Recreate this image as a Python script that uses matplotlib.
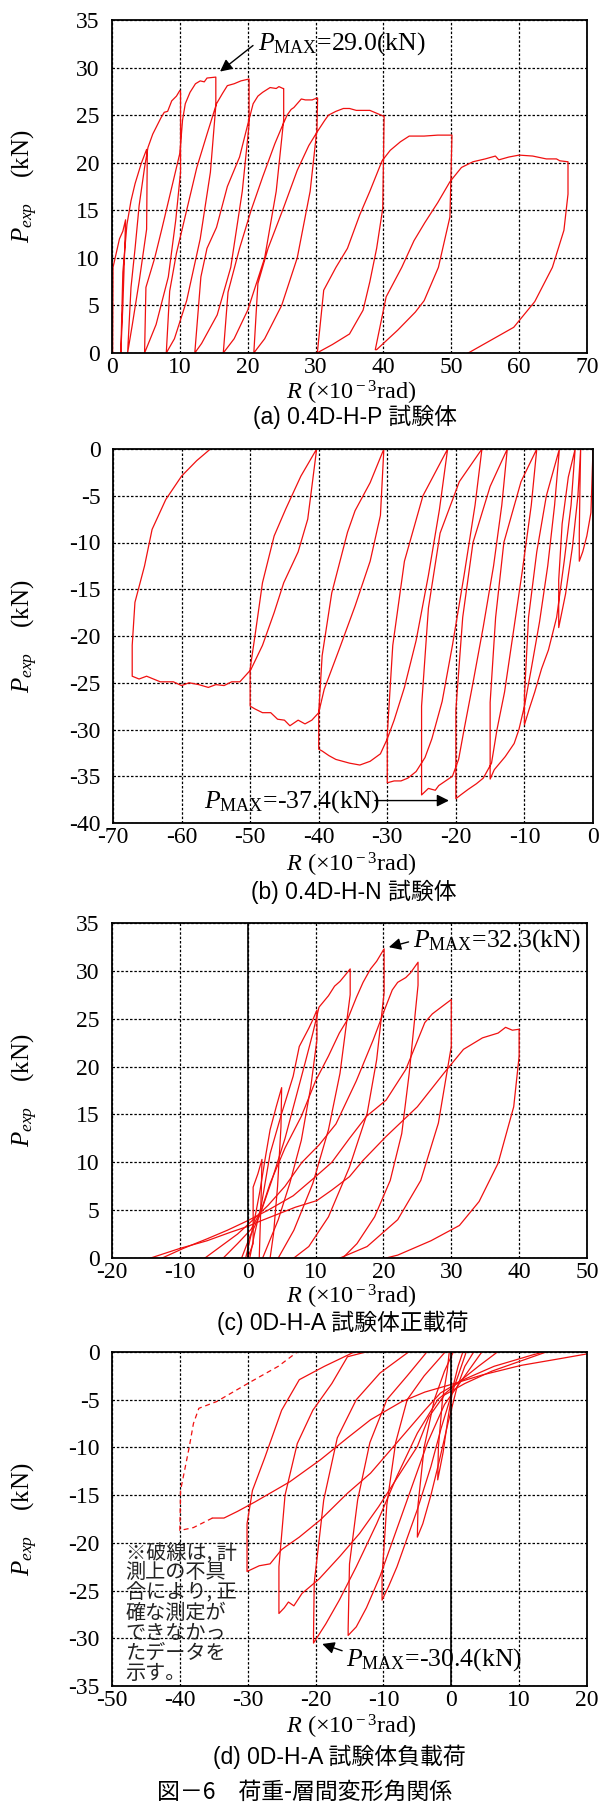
import matplotlib
matplotlib.use('Agg')
import matplotlib.pyplot as plt
from matplotlib.ticker import MultipleLocator

plt.rcParams['font.family'] = ['Liberation Serif', 'Noto Sans CJK JP']
plt.rcParams['mathtext.fontset'] = 'custom'
plt.rcParams['mathtext.rm'] = 'Liberation Serif'
plt.rcParams['mathtext.it'] = 'Liberation Serif:italic'
plt.rcParams['axes.unicode_minus'] = False

# (a) 0.4D-H-P : positive loading, one continuous curve
a_R = [0.1, 0.15, 0.6, 1.1, 1.6, 2.0, 1.9, 1.6, 1.3,
       1.6, 2.2, 2.8, 3.4, 4.3, 5.1, 5.2, 5.1, 4.0, 3.0, 2.3,
       2.8, 3.4, 4.0, 4.8, 5.3, 6.0, 7.2, 7.7, 8.2, 8.8, 9.5, 10.0,
       10.1, 10.1, 9.4, 8.3, 6.5, 4.8,
       5.0, 6.3, 7.4, 8.8, 10.0, 10.4, 10.8, 11.5, 12.3, 13.0, 13.6, 14.0, 15.2,
       15.3, 15.3, 14.5, 13.0, 11.0, 9.2, 8.0,
       8.5, 9.5, 11.0, 12.5, 14.0, 15.4, 16.3, 17.0, 18.0, 19.0, 20.2,
       20.2, 19.2, 17.5, 15.5, 13.2, 12.2,
       13.1, 14.0, 15.4, 17.0, 18.8, 20.0, 20.8, 21.5, 22.2, 23.3, 24.2, 24.6, 25.2,
       25.3, 25.3, 24.2, 22.5, 20.0, 18.0, 16.4,
       17.1, 18.8, 20.5, 22.2, 24.0, 25.0, 25.8, 26.4, 26.8, 27.9, 28.5, 29.5, 30.2,
       30.3, 30.2, 29.2, 27.3, 25.0, 22.5, 20.9,
       21.5, 23.0, 25.3, 27.3, 29.0, 30.2, 31.3, 31.9, 33.0, 34.1, 35.0, 36.0, 37.0, 38.0, 39.0, 40.0,
       40.1, 39.9, 39.0, 38.0, 37.0, 35.0, 32.5, 30.2,
       30.3, 31.2, 33.0, 34.7, 36.5, 38.0, 39.8, 41.0, 42.5, 43.8, 46.0, 48.0, 50.1,
       50.1, 49.8, 48.1, 46.0, 44.7, 42.1, 39.0,
       38.8, 40.4, 42.7, 44.5, 46.1, 48.0, 49.8, 51.5, 53.2, 55.0, 56.5, 57.0, 58.5, 60.0,
       62.0, 64.0, 65.5, 66.0, 67.2,
       67.2, 66.6, 64.9, 62.3, 59.2, 52.5]
a_P = [0.0, 9.0, 10.4, 12.0, 12.8, 14.0, 11.5, 5.0, 0.0,
       8.5, 13.5, 16.0, 17.8, 19.9, 21.4, 21.0, 13.0, 7.5, 3.0, 0.0,
       6.9, 11.0, 15.5, 19.5, 21.6, 23.0, 24.7, 25.3, 25.4, 26.5, 27.0, 27.6,
       27.5, 19.0, 14.0, 8.0, 3.0, 0.0,
       6.9, 10.0, 13.2, 17.4, 21.0, 24.5, 26.2, 27.4, 28.3, 28.6, 28.5, 28.9, 29.0,
       29.0, 26.0, 19.0, 12.0, 5.5, 1.5, 0.0,
       6.5, 10.5, 15.0, 19.5, 23.0, 26.2, 27.3, 28.1, 28.3, 28.6, 28.8,
       24.0, 17.0, 9.0, 4.0, 1.0, 0.0,
       8.0, 11.0, 13.2, 17.5, 20.6, 24.0, 26.2, 27.0, 27.4, 27.9, 27.8, 28.0, 27.8,
       27.8, 24.5, 17.0, 10.0, 4.5, 1.5, 0.0,
       6.4, 11.0, 15.0, 18.5, 22.0, 23.7, 25.0, 25.6, 25.8, 26.7, 26.6, 26.6, 26.8,
       26.8, 23.5, 17.0, 10.0, 5.0, 1.5, 0.0,
       7.3, 11.0, 15.3, 19.2, 21.8, 23.2, 24.4, 25.0, 25.4, 25.7, 25.7, 25.5, 25.5, 25.5, 25.2, 24.9,
       24.9, 15.2, 11.0, 7.5, 4.5, 2.0, 0.9, 0.0,
       0.3, 6.6, 9.0, 11.0, 14.5, 17.0, 20.2, 21.3, 22.2, 22.8, 22.8, 22.9, 22.9,
       22.9, 14.3, 9.0, 5.5, 4.3, 2.4, 0.35,
       0.35, 5.9, 9.0, 11.8, 13.7, 15.8, 18.0, 19.5, 20.1, 20.4, 20.7, 20.3, 20.6, 20.8,
       20.7, 20.4, 20.4, 20.2, 20.1,
       16.7, 12.9, 9.0, 5.4, 2.7, 0.0]

# (b) 0.4D-H-N : negative loading, one continuous curve
b_R = [0.0, -0.3, -0.9, -1.5, -2.0, -2.0, -1.9, -1.8,
       -2.2, -3.0, -4.0, -5.0, -5.0, -4.5, -3.6, -2.6,
       -3.2, -4.2, -5.3, -6.5, -7.5, -8.5, -9.3, -10.0,
       -10.0, -9.4, -8.2, -6.8, -4.9,
       -5.6, -6.6, -7.8, -9.0, -10.0, -10.8, -11.5, -12.8, -14.4, -15.0,
       -15.0, -14.2, -13.0, -10.5, -8.2,
       -9.0, -10.3, -11.7, -12.9, -14.0, -14.8, -16.0, -17.0, -18.2, -19.3, -20.0,
       -20.0, -19.0, -17.5, -15.0, -12.5,
       -13.3, -14.5, -16.0, -17.5, -18.8, -19.6, -20.5, -21.5, -22.5, -23.0, -24.0, -25.0,
       -25.0, -24.0, -22.3, -19.5, -16.2,
       -17.2, -18.8, -20.5, -22.0, -23.5, -24.5, -25.8, -27.0, -28.0, -29.0, -30.0,
       -30.0, -29.2, -27.5, -24.8, -21.2,
       -22.4, -24.0, -25.8, -27.5, -29.0, -30.0, -31.0, -32.5, -34.0, -35.5, -37.5, -38.5, -39.5, -40.0,
       -40.0, -39.5, -38.1, -35.8, -34.7, -32.5, -30.5,
       -31.0, -32.5, -34.7, -37.0, -39.2, -40.0, -41.0, -42.0, -43.0, -44.2, -45.0, -46.0, -47.0,
       -48.2, -49.3, -50.0,
       -50.0, -49.3, -48.2, -46.5, -44.8, -42.6, -40.3,
       -41.6, -43.0, -45.1, -46.5, -48.2, -49.9, -51.5, -52.7, -53.8, -55.0, -56.1, -57.5, -58.9,
       -60.0, -61.2, -63.1, -65.1, -66.2, -67.2,
       -67.2, -66.8, -65.4, -64.3, -62.3, -60.0, -57.8, -55.8]
b_P = [0.0, -6.8, -9.3, -11.0, -12.0, -9.0, -4.0, 0.0,
       -5.0, -10.5, -15.5, -19.1, -14.0, -8.0, -3.0, 0.0,
       -6.0, -12.0, -18.0, -21.5, -23.5, -26.0, -27.8, -29.5,
       -26.4, -18.0, -11.0, -5.0, 0.0,
       -6.0, -12.5, -18.5, -23.5, -27.5, -30.0, -31.5, -32.9, -34.3, -35.3,
       -27.1, -18.0, -10.0, -3.5, 0.0,
       -6.0, -13.0, -20.0, -26.0, -30.0, -33.6, -35.2, -35.8, -36.4, -37.0, -37.4,
       -27.9, -18.0, -10.0, -4.0, 0.0,
       -6.0, -12.5, -19.0, -25.0, -30.0, -33.2, -35.0, -35.5, -36.0, -36.5, -36.3, -37.0,
       -27.5, -17.0, -9.0, -3.5, 0.0,
       -6.0, -13.5, -21.0, -27.0, -31.0, -33.0, -34.5, -35.2, -35.5, -35.5, -35.7,
       -30.5, -21.0, -12.0, -5.0, 0.0,
       -6.5, -13.5, -20.5, -25.5, -29.0, -31.0, -32.6, -33.4, -33.8, -33.6, -33.2, -32.8, -32.3, -32.1,
       -28.2, -22.1, -15.4, -8.9, -6.6, -3.6, 0.0,
       -7.1, -12.0, -16.8, -21.4, -25.7, -28.2, -29.0, -29.4, -29.0, -29.6, -29.0, -28.9, -28.2,
       -28.2, -27.8, -27.5,
       -23.5, -20.0, -14.3, -9.3, -6.4, -2.9, 0.0,
       -7.5, -11.0, -14.3, -17.5, -21.0, -23.6, -24.9, -24.9, -25.3, -25.2, -25.5, -25.2, -25.0,
       -25.3, -24.9, -24.9, -24.3, -24.6, -24.3,
       -21.0, -16.4, -12.5, -8.6, -5.4, -2.9, -1.25, 0.0]

# (c) 0D-H-A positive side, one list per cycle
c_R = [
    [0.0, 0.8, 0.8, 1.5, 2.1, 2.0, 1.7],
    [-0.3, 0.2, 1.0, 1.8, 2.6, 3.3, 4.2, 5.0, 4.9, 4.4, 3.8, 3.3],
    [0.3, 1.0, 2.0, 3.3, 5.0, 6.7, 7.6, 9.0, 9.6, 10.2, 10.2, 9.3, 7.9, 6.2, 4.5, 2.2],
    [-0.9, 0.3, 1.8, 3.5, 5.5, 7.0, 8.5, 9.6, 10.5, 11.9, 12.8, 13.6, 14.3, 15.1,
     15.1, 13.6, 11.9, 9.6, 6.8, 4.5],
    [-3.6, -1.5, 0.5, 2.0, 3.3, 5.5, 7.9, 10.0, 11.9, 13.5, 14.7, 16.0, 17.0, 18.1, 19.0, 20.1,
     20.1, 19.0, 17.6, 15.0, 11.9, 9.0, 6.8],
    [-6.3, -4.0, -1.5, 0.5, 3.0, 5.5, 8.0, 10.5, 13.0, 16.0, 18.5, 20.2, 21.3, 22.1, 23.3, 24.0, 25.1,
     25.1, 23.8, 22.7, 21.0, 18.7, 16.1, 14.0],
    [-12.6, -9.5, -6.0, -3.0, 0.0, 3.0, 6.7, 10.0, 12.4, 15.0, 17.5, 20.4, 23.3, 26.1, 27.2, 28.5, 30.0,
     30.0, 28.1, 25.5, 22.1, 17.6, 13.6],
    [-14.3, -10.0, -6.0, -2.5, 0.0, 2.0, 4.5, 7.0, 10.2, 12.4, 15.0, 17.0, 20.4, 25.0, 28.9, 31.8,
     34.6, 36.9, 38.0, 39.0, 40.0,
     40.0, 39.2, 36.9, 34.1, 31.2, 27.0, 22.1, 20.4],
]
c_P = [
    [0.0, 1.5, 7.4, 8.8, 10.3, 7.0, 0.0],
    [0.0, 1.5, 4.0, 7.0, 10.5, 13.4, 15.8, 17.8, 13.7, 7.5, 2.5, 0.0],
    [0.0, 2.5, 5.5, 10.9, 15.1, 19.0, 22.1, 24.0, 24.9, 25.9, 22.8, 17.9, 12.3, 7.8, 4.0, 0.0],
    [0.0, 2.2, 4.5, 8.0, 12.5, 16.5, 20.5, 23.5, 26.2, 27.4, 28.4, 28.9, 29.5, 30.2,
     27.5, 19.3, 13.4, 7.8, 2.9, 0.0],
    [0.0, 1.5, 3.0, 5.0, 7.8, 11.5, 14.8, 18.5, 21.1, 23.5, 24.9, 27.2, 28.8, 30.2, 31.0, 32.3,
     27.7, 20.7, 15.1, 9.5, 4.3, 1.2, 0.0],
    [0.0, 1.2, 2.5, 3.8, 5.5, 7.5, 10.0, 11.8, 14.0, 18.5, 22.8, 26.0, 28.0, 28.8, 29.3, 29.8, 30.9,
     28.5, 19.3, 13.0, 8.1, 4.3, 1.5, 0.0],
    [0.0, 1.0, 2.0, 2.9, 3.9, 5.0, 6.5, 8.5, 10.0, 12.5, 14.8, 16.5, 19.7, 24.6, 25.5, 26.2, 27.0,
     22.1, 14.1, 8.1, 4.0, 1.2, 0.0],
    [0.0, 1.0, 1.8, 2.7, 3.3, 3.9, 4.6, 5.3, 6.0, 7.1, 8.5, 10.2, 12.7, 15.8, 19.3, 21.8,
     23.0, 23.5, 24.1, 23.8, 23.9,
     21.1, 15.8, 9.9, 5.9, 3.4, 1.8, 0.3, 0.0],
]

# (d) 0D-H-A negative side, one list per cycle
d_R = [
    [1.7, 1.0, 0.3, -0.5, -1.2, -2.0, -1.9, -1.3, -0.6, -0.3],
    [3.3, 2.0, 0.8, -0.5, -1.8, -3.0, -4.2, -5.0, -4.9, -4.0, -2.5, -1.0, 0.3],
    [2.2, 1.0, 0.0, -1.5, -3.0, -5.0, -6.5, -8.0, -9.2, -10.2,
     -10.2, -9.5, -8.2, -6.5, -4.0, -0.9],
    [4.5, 3.0, 1.0, -1.0, -3.5, -6.0, -8.5, -10.5, -12.5, -14.0, -15.2,
     -15.2, -15.0, -13.8, -12.0, -9.5, -6.5, -3.6],
    [6.8, 4.0, 1.0, -2.0, -5.0, -8.0, -11.0, -14.0, -16.5, -18.5, -20.3,
     -20.3, -20.2, -18.8, -16.8, -14.0, -10.5, -6.3],
    [14.0, 10.0, 6.0, 2.0, -1.0, -3.3, -5.0, -7.9, -10.7, -13.5, -16.4, -19.5, -22.0, -23.2, -24.0,
     -24.6, -25.4,
     -25.4, -24.5, -22.7, -20.4, -17.6, -15.3, -12.6],
    [13.6, 12.0, 6.3, 1.8, -1.6, -3.9, -8.5, -11.9, -15.3, -19.3, -22.4, -25.0, -26.7, -28.3, -30.1,
     -30.1, -29.3, -27.5, -25.0, -22.4, -18.7, -14.3],
]
d_P = [
    [0.0, -1.5, -3.5, -7.0, -10.5, -13.4, -10.0, -5.0, -2.0, 0.0],
    [0.0, -1.5, -3.8, -7.5, -11.5, -15.0, -18.0, -19.4, -16.0, -10.0, -5.0, -2.0, 0.0],
    [0.0, -2.5, -4.5, -8.0, -12.0, -16.5, -19.5, -22.5, -24.5, -26.0,
     -23.5, -16.0, -9.5, -5.0, -2.5, 0.0],
    [0.0, -1.5, -3.5, -5.5, -9.5, -14.5, -19.5, -23.5, -26.8, -28.8, -29.7,
     -29.0, -22.2, -15.5, -9.5, -5.0, -2.5, 0.0],
    [0.0, -1.5, -3.2, -5.0, -8.5, -13.0, -18.0, -22.5, -26.0, -28.5, -30.5,
     -29.5, -24.2, -15.5, -9.0, -5.0, -2.2, 0.0],
    [0.0, -1.0, -2.0, -3.3, -4.5, -6.8, -9.9, -13.1, -16.2, -19.0, -21.4, -23.8, -25.3, -26.6, -26.2,
     -26.8, -27.4,
     -22.5, -15.0, -9.6, -6.1, -3.3, -0.5, 0.0],
    [0.0, -0.3, -1.5, -2.9, -4.3, -6.1, -9.9, -12.7, -14.8, -17.6, -19.4, -20.7, -22.2, -22.4, -23.0,
     -18.0, -14.5, -11.1, -6.1, -2.9, -1.5, 0.0],
]
# last cycle of (d): solid part, then the dashed (unreliable) part
d40_R = [20.0, 16.0, 10.3, 4.6, -0.5, -3.9, -7.3, -11.9, -15.3, -19.3, -23.8, -28.9, -31.5, -33.5, -35.2]
d40_P = [-0.2, -0.7, -1.4, -2.4, -3.5, -4.2, -5.2, -7.1, -9.0, -11.3, -13.6, -15.7, -16.7, -17.4, -17.4]
d40dash_R = [-35.2, -38.0, -40.0, -39.9, -39.3, -38.6, -38.0, -37.2, -34.6, -29.5, -25.5, -22.7]
d40dash_P = [-17.4, -18.4, -18.7, -14.5, -12.4, -9.9, -7.5, -5.9, -5.2, -3.1, -1.5, 0.0]

W, H = 605, 1802
RED = '#f01010'
fig = plt.figure(figsize=(W / 100, H / 100), dpi=100)


def make_ax(left, top, right, bottom):
    return fig.add_axes([left / W, 1 - bottom / H, (right - left) / W, (bottom - top) / H])


def style(ax, xlim, ylim):
    ax.set_xlim(xlim)
    ax.set_ylim(ylim)
    ax.xaxis.set_major_locator(MultipleLocator(10))
    ax.yaxis.set_major_locator(MultipleLocator(5))
    ax.grid(True, color='black', linestyle=(0, (2, 1.5)), linewidth=0.9)
    ax.tick_params(axis='both', direction='in', length=0, labelsize=17)
    ax.tick_params(axis='x', pad=3)
    ax.tick_params(axis='y', pad=9)
    for s in ax.spines.values():
        s.set_linewidth(1.3)


def labels(ax, xlab_y, cap_y, caption, cap_x=350):
    pos = ax.get_position()
    fig.text(25 / W, (pos.y0 + pos.y1) / 2, r'$P_{exp}$    (kN)', rotation=90,
             ha='center', va='center', fontsize=18)
    fig.text(351 / W, 1 - xlab_y / H, r'$R$ (×10$^{\rm -3}$rad)', ha='center', va='center', fontsize=17.5)
    fig.text(cap_x / W, 1 - cap_y / H, caption, ha='center', va='center', fontsize=16.5,
             family=['Liberation Sans', 'Noto Sans CJK JP'])


def pmax(ax, text_xy, tail, head, label):
    ax.text(text_xy[0], text_xy[1], label, fontsize=18.5, ha='left', va='baseline')
    ax.annotate('', xy=head, xytext=tail,
                arrowprops=dict(arrowstyle='-|>', color='black', lw=1.0, mutation_scale=18))


# (a)
ax = make_ax(112, 20, 587, 353)
ax.plot(a_R, a_P, color=RED, lw=0.9)
style(ax, (0, 70), (0, 35))
pmax(ax, (21.5, 31.9), (21.1, 32.5), (15.6, 29.4), r'$P_{\rm MAX}$=29.0(kN)')
labels(ax, 393, 417, '(a) 0.4D-H-P 試験体', 355)

# (b)
ax = make_ax(113, 449, 593, 823)
ax.plot(b_R, b_P, color=RED, lw=0.9)
style(ax, (-70, 0), (-40, 0))
pmax(ax, (-56.7, -38.3), (-32.2, -37.6), (-20.6, -37.6), r'$P_{\rm MAX}$=-37.4(kN)')
labels(ax, 865, 892, '(b) 0.4D-H-N 試験体', 354)

# (c)
ax = make_ax(112, 923, 587, 1258)
for r, p in zip(c_R, c_P):
    ax.plot(r, p, color=RED, lw=0.9)
style(ax, (-20, 50), (0, 35))
ax.axvline(0, color='black', lw=1.2)
pmax(ax, (24.3, 32.5), (24.1, 33.1), (20.4, 32.4), r'$P_{\rm MAX}$=32.3(kN)')
labels(ax, 1297, 1323, '(c) 0D-H-A 試験体正載荷', 343)

# (d)
ax = make_ax(112, 1352, 587, 1686)
for r, p in zip(d_R, d_P):
    ax.plot(r, p, color=RED, lw=0.9)
ax.plot(d40_R, d40_P, color=RED, lw=0.9)
ax.plot(d40dash_R, d40dash_P, color=RED, lw=0.9, linestyle=(0, (4, 3)))
style(ax, (-50, 20), (-35, 0))
ax.axvline(0, color='black', lw=1.2)
pmax(ax, (-15.45, -32.9), (-15.7, -31.4), (-19.4, -30.5), r'$P_{\rm MAX}$=-30.4(kN)')
ax.text(-48.0, -19.9, '※破線は, 計\n測上の不具\n合により, 正\n確な測定が\nできなかっ\nたデータを\n示す。',
        ha='left', va='top', fontsize=14.5, linespacing=0.95, color='#222222',
        family=['Noto Sans CJK JP'])
labels(ax, 1727, 1757, '(d) 0D-H-A 試験体負載荷', 339)

fig.text(305 / W, 1 - 1792 / H, '図－6　荷重-層間変形角関係', ha='center', va='center',
         fontsize=16.5, family=['Noto Sans CJK JP', 'Liberation Sans'])

fig.savefig('out.png', dpi=100)
